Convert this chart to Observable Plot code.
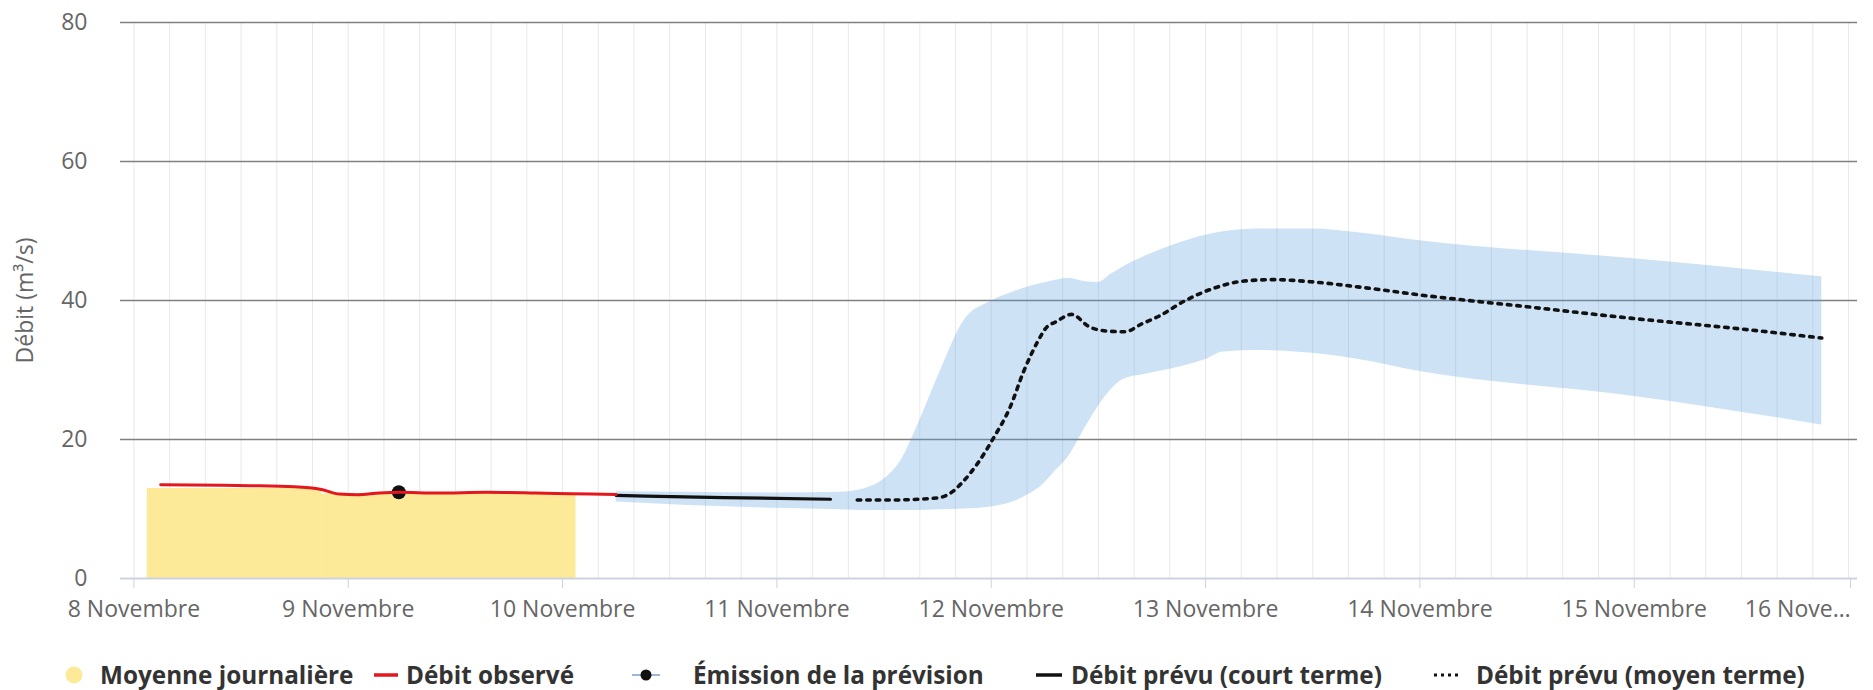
<!DOCTYPE html>
<html>
<head>
<meta charset="utf-8">
<script src="https://cdn.jsdelivr.net/npm/d3@7"></script>
<script src="https://cdn.jsdelivr.net/npm/@observablehq/plot@0.6"></script>
<style>
  html, body { margin: 0; padding: 0; background: #fff; }
  #wrap { position: relative; width: 1873px; height: 690px; font-family: "Open Sans", sans-serif; }
  #legend { position: absolute; left: 0; top: 630px; width: 1873px; height: 60px; }
  .li { position: absolute; top: 45px; transform: translateY(-50%); font-weight: 700; font-size: 24.3px; color: #333; white-space: nowrap; line-height: 1; }
  .sym { position: absolute; top: 45px; transform: translateY(-50%); line-height: 0; }
</style>
</head>
<body>
<div id="wrap"><div id="chart"></div><div id="legend"></div></div>
<script>
// ---- data ----
const xTickDates = ["2023-11-08T00:00","2023-11-09T00:00","2023-11-10T00:00","2023-11-11T00:00","2023-11-12T00:00","2023-11-13T00:00","2023-11-14T00:00","2023-11-15T00:00","2023-11-16T00:00"];
const xTickLabels = ["8 Novembre","9 Novembre","10 Novembre","11 Novembre","12 Novembre","13 Novembre","14 Novembre","15 Novembre","16 Nove…"];
const yTicks = [0, 20, 40, 60, 80];
const xDomain = ["2023-11-07T22:30", "2023-11-16T01:00"];

// Moyenne journalière
const dailyStart = ["2023-11-08T01:30", "2023-11-08T21:00"];
const dailyEnd   = ["2023-11-08T21:00", "2023-11-10T01:30"];
const dailyMean  = [12.95, 12.2];

// Débit observé
const obsTime = ["2023-11-08T03:00","2023-11-08T10:00","2023-11-08T13:00","2023-11-08T18:00","2023-11-08T21:00","2023-11-08T23:00","2023-11-09T01:00","2023-11-09T03:30","2023-11-09T05:40","2023-11-09T10:00","2023-11-09T15:30","2023-11-09T21:00","2023-11-10T01:00","2023-11-10T06:00"];
const obsValue = [13.5, 13.4, 13.35, 13.2, 12.8, 12.15, 12.05, 12.3, 12.4, 12.3, 12.4, 12.3, 12.2, 12.1];

// Émission de la prévision
const emissionTime = ["2023-11-09T05:40"];
const emissionValue = [12.4];

// Débit prévu (court terme)
const shortTime = ["2023-11-10T06:00","2023-11-10T18:00","2023-11-11T06:00"];
const shortValue = [11.95, 11.65, 11.4];

// Débit prévu (moyen terme)
const medTime = ["2023-11-11T09:00","2023-11-11T13:00","2023-11-11T18:00","2023-11-11T19:40","2023-11-11T20:40","2023-11-11T22:30","2023-11-12T00:15","2023-11-12T02:10","2023-11-12T03:36","2023-11-12T05:10","2023-11-12T06:14","2023-11-12T07:12","2023-11-12T09:00","2023-11-12T11:00","2023-11-12T13:00","2023-11-12T15:00","2023-11-12T16:48","2023-11-12T18:43","2023-11-12T21:36","2023-11-13T01:00","2023-11-13T04:19","2023-11-13T07:41","2023-11-13T11:46","2023-11-13T16:48","2023-11-14T00:00","2023-11-14T12:00","2023-11-15T00:00","2023-11-15T12:00","2023-11-15T21:00"];
const medValue = [11.3, 11.3, 11.6, 12.5, 13.7, 16.6, 20.2, 24.8, 29.7, 34.0, 36.2, 36.9, 38.0, 36.2, 35.6, 35.5, 36.6, 37.7, 39.9, 41.8, 42.8, 43.0, 42.7, 42.0, 40.8, 39.1, 37.4, 35.9, 34.6];

// Incertitude (enveloppe)
const bandTime = ["2023-11-10T06:00","2023-11-10T14:00","2023-11-11T00:00","2023-11-11T07:00","2023-11-11T10:00","2023-11-11T12:00","2023-11-11T14:00","2023-11-11T15:45","2023-11-11T18:15","2023-11-11T21:00","2023-11-12T00:00","2023-11-12T02:24","2023-11-12T04:19","2023-11-12T05:31","2023-11-12T07:12","2023-11-12T08:38","2023-11-12T10:34","2023-11-12T12:00","2023-11-12T13:26","2023-11-12T14:53","2023-11-12T17:17","2023-11-12T20:24","2023-11-13T00:00","2023-11-13T02:00","2023-11-13T06:00","2023-11-13T12:00","2023-11-13T16:48","2023-11-14T00:00","2023-11-15T00:00","2023-11-15T21:00"];
const bandLow  = [11.0, 10.5, 10.1, 9.9, 9.8, 9.8, 9.8, 9.8, 9.9, 10.0, 10.3, 11.0, 12.2, 13.2, 15.5, 17.5, 21.8, 24.8, 27.2, 28.7, 29.4, 30.2, 31.5, 32.6, 32.8, 32.4, 31.6, 29.8, 26.2, 22.1];
const bandHigh = [12.5, 12.4, 12.3, 12.4, 13.0, 14.3, 17.2, 22.0, 29.7, 37.2, 39.9, 41.2, 42.0, 42.4, 42.9, 43.2, 42.7, 42.6, 43.8, 44.9, 46.4, 48.0, 49.4, 49.9, 50.3, 50.3, 49.8, 48.6, 46.0, 43.4];

// ---- build ----
const parse = d3.utcParse("%Y-%m-%dT%H:%M");
const daily = dailyMean.map((v, i) => ({t1: parse(dailyStart[i]), t2: parse(dailyEnd[i]), v}));
const observed = obsTime.map((t, i) => ({t: parse(t), v: obsValue[i]}));
const emission = emissionTime.map((t, i) => ({t: parse(t), v: emissionValue[i]}));
const shortTerm = shortTime.map((t, i) => ({t: parse(t), v: shortValue[i]}));
const medTerm = medTime.map((t, i) => ({t: parse(t), v: medValue[i]}));
const band = bandTime.map((t, i) => ({t: parse(t), lo: bandLow[i], hi: bandHigh[i]}));
const ticks = xTickDates.map(parse);
const labelMap = new Map(ticks.map((d, i) => [+d, xTickLabels[i]]));
const dom = xDomain.map(parse);
const minorGrid = d3.utcHour.every(4).range(ticks[0], d3.utcHour.offset(ticks[ticks.length - 1], 1));

const chart = Plot.plot({
  width: 1873,
  height: 630,
  marginTop: 22,
  marginBottom: 52,
  marginLeft: 120,
  marginRight: 16,
  style: {fontFamily: "'Open Sans', sans-serif", fontSize: "23px", color: "#666", background: "#fff", overflow: "visible"},
  x: {type: "utc", domain: dom},
  y: {domain: [0, 80]},
  marks: [
    Plot.gridX(minorGrid, {stroke: "#e9e9e9", strokeOpacity: 1, strokeWidth: 1}),
    Plot.gridY(yTicks.filter(d => d > 0), {stroke: "#808080", strokeOpacity: 1, strokeWidth: 1.5}),
    Plot.areaY(band, {x: "t", y1: "lo", y2: "hi", fill: "#5d9fe0", fillOpacity: 0.3, curve: "monotone-x"}),
    Plot.rectY(daily, {x1: "t1", x2: "t2", y: "v", fill: "#fcea98"}),
    Plot.line(medTerm, {x: "t", y: "v", stroke: "#111", strokeWidth: 3.6, strokeDasharray: "3.5 6", curve: "monotone-x"}),
    Plot.line(shortTerm, {x: "t", y: "v", stroke: "#111", strokeWidth: 3.2, curve: "monotone-x"}),
    Plot.dot(emission, {x: "t", y: "v", r: 7, fill: "#111", stroke: "none"}),
    Plot.line(observed, {x: "t", y: "v", stroke: "#e3171d", strokeWidth: 3, curve: "monotone-x"}),
    Plot.ruleY([0], {stroke: "#ccd2de", strokeWidth: 2}),
    Plot.axisX(ticks.slice(0, -1), {tickFormat: d => labelMap.get(+d), tickSize: 10, tickPadding: 12, stroke: "#ccd2de", fill: "#666", fontSize: 23, label: null}),
    Plot.axisX(ticks.slice(-1), {tickFormat: d => labelMap.get(+d), tickSize: 10, tickPadding: 12, stroke: "#ccd2de", fill: "#666", fontSize: 23, textAnchor: "end", dx: 2, label: null}),
    Plot.axisY(yTicks, {tickSize: 0, tickPadding: 33, fill: "#666", fontSize: 23, label: "Débit (m³/s)", labelAnchor: "center", labelArrow: "none", labelOffset: 104})
  ]
});
document.getElementById("chart").appendChild(chart);

// ---- legend (HTML) ----
const legend = document.getElementById("legend");
const items = [
  {sym: `<svg width="20" height="20"><circle cx="10" cy="10" r="8.5" fill="#fcea98"/></svg>`, symX: 64, text: "Moyenne journalière", textX: 100},
  {sym: `<svg width="24" height="8"><line x1="0" y1="4" x2="24" y2="4" stroke="#e3171d" stroke-width="3.5"/></svg>`, symX: 374, text: "Débit observé", textX: 406},
  {sym: `<svg width="28" height="14"><line x1="0" y1="7" x2="28" y2="7" stroke="#7f9fc0" stroke-width="1.5"/><circle cx="14" cy="7" r="5.5" fill="#111"/></svg>`, symX: 632, text: "Émission de la prévision", textX: 693},
  {sym: `<svg width="26" height="8"><line x1="0" y1="4" x2="26" y2="4" stroke="#111" stroke-width="3.5"/></svg>`, symX: 1036, text: "Débit prévu (court terme)", textX: 1071},
  {sym: `<svg width="28" height="8"><line x1="0" y1="4" x2="28" y2="4" stroke="#111" stroke-width="3.2" stroke-dasharray="3 4"/></svg>`, symX: 1434, text: "Débit prévu (moyen terme)", textX: 1476}
];
for (const it of items) {
  const s = document.createElement("div");
  s.className = "sym"; s.style.left = it.symX + "px"; s.innerHTML = it.sym;
  legend.appendChild(s);
  const t = document.createElement("div");
  t.className = "li"; t.style.left = it.textX + "px"; t.textContent = it.text;
  legend.appendChild(t);
}
</script>
</body>
</html>
